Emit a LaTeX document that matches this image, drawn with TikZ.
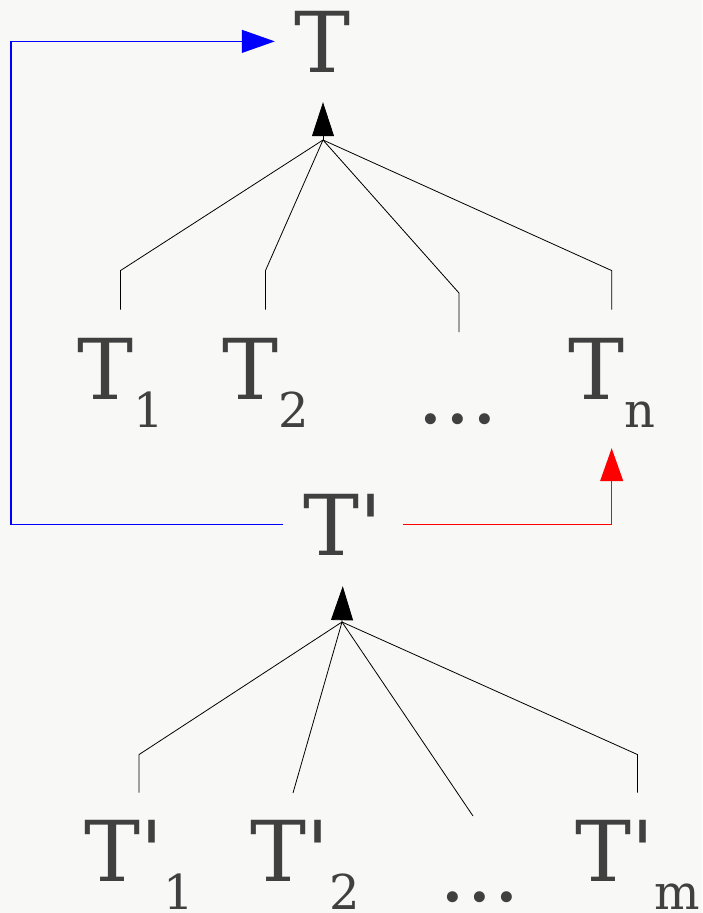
\documentclass[tikz,border=0pt]{standalone}
\usepackage{fontspec}
\newfontfamily\lblfont{DejaVu Serif}
\usetikzlibrary{arrows.meta,positioning}
\definecolor{ink}{RGB}{64,64,64}
\definecolor{paper}{RGB}{248,248,246}
\newcommand{\lblsub}[1]{\raisebox{-28pt}{\fontsize{48pt}{48pt}\selectfont #1}}

\begin{document}
\begin{tikzpicture}[
    x=1pt, y=-1pt,
    lbl/.style={inner sep=0pt, text=ink, font=\lblfont\fontsize{84pt}{84pt}\selectfont},
    branch/.style={line width=0.8pt, draw=black},
    uparrow/.style={-{Triangle[length=34pt, width=22pt]}, line width=0.8pt, draw=black},
    backarrow/.style={-{Triangle[length=33pt, width=23pt]}, line width=1.1pt}
]
    \fill[paper] (0,0) rectangle (702,913);
    \useasboundingbox (0,0) rectangle (702,913);

    % Upper tree
    \node[lbl, anchor=base] (troot) at (323,72) {T};
    \node[lbl, anchor=base west] (t1) at (77,399) {T\lblsub{1}};
    \node[lbl, anchor=base west] (t2) at (222,399) {T\lblsub{2}};
    \node[lbl, anchor=base] (tdots) at (458,423) {...};
    \node[lbl, anchor=base west] (tn) at (568,399) {T\lblsub{n}};

    \coordinate (apex1) at (323,140);
    \coordinate (dots1bend) at (459,293);
    \coordinate (dots1end) at (459,332);

    \draw[uparrow] (apex1) -- ([yshift=-30pt]troot.south);
    \foreach \n in {t1,t2,tn}
        \draw[branch] (apex1) -- ([yshift=67pt]\n.north) -- ([yshift=28pt]\n.north);
    \draw[branch] (apex1) -- (dots1bend) -- (dots1end);

    % Lower tree
    \node[lbl, anchor=base west] (tp) at (303,555) {T'};
    \node[lbl, anchor=base west] (tq1) at (84,881) {T'\lblsub{1}};
    \node[lbl, anchor=base west] (tq2) at (250,881) {T'\lblsub{2}};
    \node[lbl, anchor=base] (tqdots) at (480,901) {...};
    \node[lbl, anchor=base west] (tqm) at (575,881) {T'\lblsub{m}};

    \coordinate (apex2) at (342,622);
    \coordinate (q2end) at (293,793);
    \coordinate (q3end) at (473,816);

    \draw[uparrow] (apex2) -- ([yshift=-31pt]tp.south);
    \foreach \n in {tq1,tqm}
        \draw[branch] (apex2) -- ([yshift=65pt]\n.north) -- ([yshift=27pt]\n.north);
    \draw[branch] (apex2) -- (q2end);
    \draw[branch] (apex2) -- (q3end);

    % Feedback connectors
    \coordinate (leftrail) at (11,0);
    \draw[backarrow, blue] ([xshift=-20pt]tp.west) -- (leftrail |- tp.west)
        -- (leftrail |- troot.west) -- ([xshift=-20pt]troot.west);
    \draw[backarrow, red] ([xshift=20pt]tp.east) -| ([yshift=-21pt]tn.south);

\end{tikzpicture}
\end{document}
